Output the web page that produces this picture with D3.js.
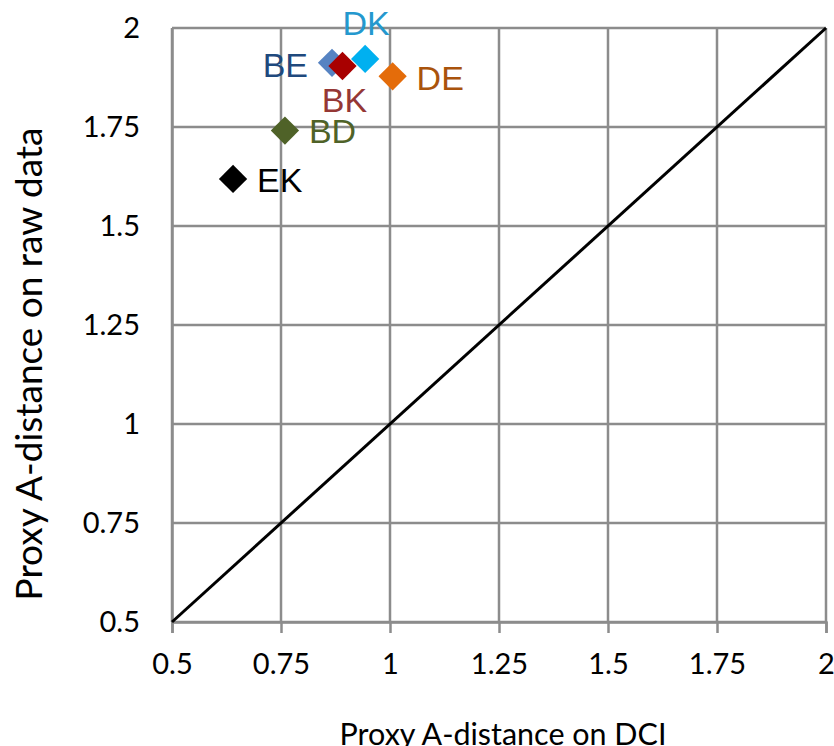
<!DOCTYPE html>
<html>
<head>
<meta charset="utf-8">
<script src="https://cdn.jsdelivr.net/npm/d3@7/dist/d3.min.js"></script>
<style>
  html, body { margin: 0; padding: 0; background: #fff; }
  svg { display: block; }
</style>
</head>
<body>
<script>
// ---- Data ----
const names   = ["BE", "DK", "BK", "DE", "BD", "EK"];
const xValues = [0.867, 0.943, 0.891, 1.006, 0.759, 0.640];   // Proxy A-distance on DCI
const yValues = [1.912, 1.922, 1.904, 1.878, 1.741, 1.619];   // Proxy A-distance on raw data
const markerColors = ["#5683C2", "#00B0F0", "#A80000", "#E46C0A", "#4F6228", "#000000"];
const labelColors  = ["#1F497D", "#2498CE", "#953735", "#A9530C", "#4F6228", "#000000"];
const tickValues = [0.5, 0.75, 1, 1.25, 1.5, 1.75, 2];
const tickLabels = ["0.5", "0.75", "1", "1.25", "1.5", "1.75", "2"];
const xTitle = "Proxy A-distance on DCI";
const yTitle = "Proxy A-distance on raw data";

// ---- Layout / style ----
const W = 834, H = 746;
const plot = { left: 172, top: 28, right: 826, bottom: 622 };
const gridColor = "#8C8C8C";
const tickFont = "Lato, 'Open Sans', sans-serif";
const labelPlacement = {
  BE: { anchor: "end",    dx: -24, dy: 14 },
  DK: { anchor: "middle", dx: 1,   dy: -24 },
  BK: { anchor: "middle", dx: 2,   dy: 46 },
  DE: { anchor: "start",  dx: 24,  dy: 13.5 },
  BD: { anchor: "start",  dx: 24,  dy: 12.5 },
  EK: { anchor: "start",  dx: 24,  dy: 13 }
};

const svg = d3.select("body").append("svg")
  .attr("width", W).attr("height", H);

const x = d3.scaleLinear().domain([0.5, 2]).range([plot.left, plot.right]);
const y = d3.scaleLinear().domain([0.5, 2]).range([plot.bottom, plot.top]);

// Gridlines
const grid = svg.append("g");
grid.selectAll("line.v").data(tickValues).join("line")
  .attr("x1", d => x(d)).attr("x2", d => x(d))
  .attr("y1", plot.top).attr("y2", plot.bottom)
  .attr("stroke", gridColor).attr("stroke-width", 2.5);
grid.selectAll("line.h").data(tickValues).join("line")
  .attr("x1", plot.left).attr("x2", plot.right)
  .attr("y1", d => y(d)).attr("y2", d => y(d))
  .attr("stroke", gridColor).attr("stroke-width", 2.5);

// X axis
const xAxis = svg.append("g")
  .attr("transform", `translate(0,${plot.bottom})`)
  .call(d3.axisBottom(x).tickValues(tickValues)
    .tickFormat((d, i) => tickLabels[i]).tickSize(11).tickPadding(20));
xAxis.select(".domain").attr("stroke", gridColor).attr("stroke-width", 2.5);
xAxis.selectAll(".tick line").attr("stroke", gridColor).attr("stroke-width", 2.5);
xAxis.selectAll(".tick text")
  .attr("font-family", tickFont).attr("font-size", 29).attr("fill", "#000");

// Y axis
const yAxis = svg.append("g")
  .attr("transform", `translate(${plot.left},0)`)
  .call(d3.axisLeft(y).tickValues(tickValues)
    .tickFormat((d, i) => tickLabels[i]).tickSize(0).tickPadding(32));
yAxis.select(".domain").attr("stroke", gridColor).attr("stroke-width", 2.5);
yAxis.selectAll(".tick text")
  .attr("font-family", tickFont).attr("font-size", 29).attr("fill", "#000");

// Diagonal y = x
svg.append("line")
  .attr("x1", x(0.5)).attr("y1", y(0.5))
  .attr("x2", x(2)).attr("y2", y(2))
  .attr("stroke", "#000").attr("stroke-width", 3);

// Points
const pts = names.map((n, i) => ({ name: n, x: xValues[i], y: yValues[i],
  mc: markerColors[i], lc: labelColors[i] }));
const sym = d3.symbol().type(d3.symbolSquare).size(400);
svg.append("g").selectAll("path").data(pts).join("path")
  .attr("d", sym)
  .attr("transform", d => `translate(${x(d.x)},${y(d.y)}) rotate(45)`)
  .attr("fill", d => d.mc);

// Point labels
svg.append("g").selectAll("text").data(pts).join("text")
  .attr("x", d => x(d.x) + labelPlacement[d.name].dx)
  .attr("y", d => y(d.y) + labelPlacement[d.name].dy)
  .attr("text-anchor", d => labelPlacement[d.name].anchor)
  .attr("font-family", "'Liberation Sans', Arial, sans-serif")
  .attr("font-size", 34)
  .attr("fill", d => d.lc)
  .text(d => d.name);

// Axis titles, font size fitted to the reference's text width
function fitSize(sel, base, targetWidth) {
  const w = sel.node().getComputedTextLength();
  if (w > 0) sel.attr("font-size", base * targetWidth / w);
}
const xt = svg.append("text")
  .attr("x", 503)
  .attr("y", 745)
  .attr("text-anchor", "middle")
  .attr("font-family", tickFont).attr("font-size", 28).attr("fill", "#000")
  .text(xTitle);
fitSize(xt, 28, 327);

const yt = svg.append("text")
  .attr("transform", `translate(42,364) rotate(-90)`)
  .attr("text-anchor", "middle")
  .attr("font-family", tickFont).attr("font-size", 28).attr("fill", "#000")
  .text(yTitle);
fitSize(yt, 28, 473);
</script>
</body>
</html>
